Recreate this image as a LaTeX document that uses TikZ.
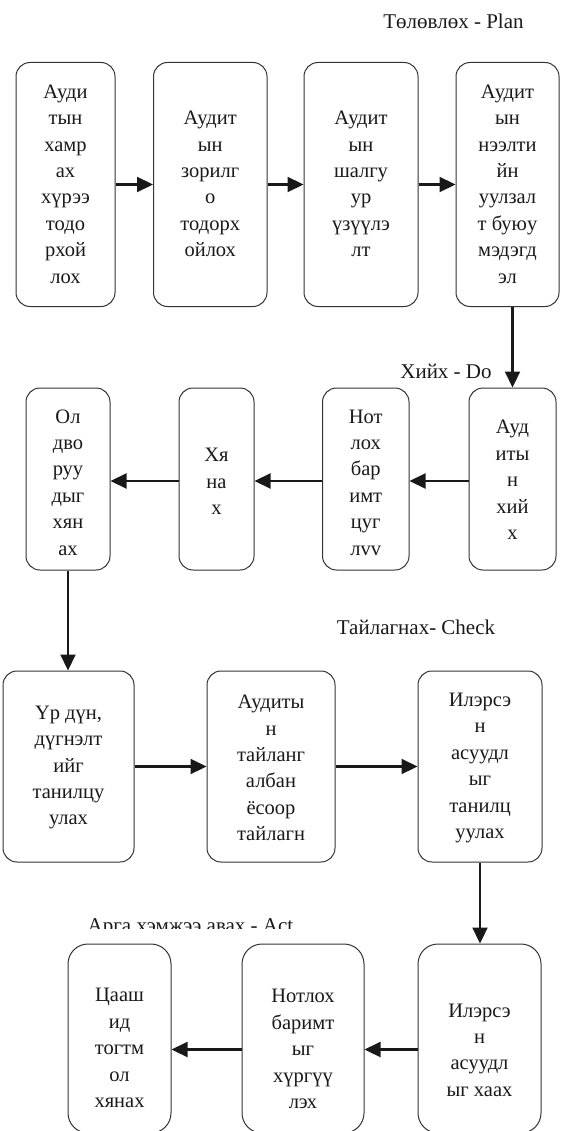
\documentclass[tikz,border=0pt]{standalone}
\usepackage{fontspec}
\setmainfont{Liberation Serif}
\usetikzlibrary{arrows.meta}
\begin{document}
\begin{tikzpicture}[x=1pt,y=-1pt,
  box/.style={draw=black!80, line width=1pt, rounded corners=14pt, inner sep=0pt},
  bigbox/.style={box, rounded corners=20pt},
  txt/.style={align=center, font=\fontsize{20.5pt}{26.4pt}\selectfont, text=black!90, inner sep=0pt},
  lbl/.style={font=\fontsize{21pt}{25pt}\selectfont, text=black!90, inner sep=0pt, anchor=base},
  arr/.style={line width=2.2pt, draw=black!90, -{Triangle[length=16pt,width=15pt]}}
]
\useasboundingbox (0,0) rectangle (560,1131);

% ---- Plan ----
\node[lbl] (plan) at (453.5,29) {Төлөвлөх - Plan};
\node[box, minimum width=99pt,  minimum height=244pt] (p1) at (65.5,184.5) {};
\node[box, minimum width=113.5pt, minimum height=244pt] (p2) at (210.25,184.5) {};
\node[box, minimum width=114pt, minimum height=244pt] (p3) at (361,184.5) {};
\node[box, minimum width=103pt, minimum height=244pt] (p4) at (507.5,184.5) {};
\node[txt] (p1t) at (65.5,184) {Ауди\\тын\\хамр\\ах\\хүрээ\\тодо\\рхой\\лох};
\node[txt] (p2t) at (210.25,184) {Аудит\\ын\\зорилг\\о\\тодорх\\ойлох};
\node[txt] (p3t) at (361,184) {Аудит\\ын\\шалгу\\ур\\үзүүлэ\\лт};
\node[txt] (p4t) at (507.5,184) {Аудит\\ын\\нээлти\\йн\\уулзал\\т буюу\\мэдэгд\\эл};

% ---- Do ----
\node[lbl] (do) at (446,378) {Хийх - Do};
\node[box, minimum width=87pt,   minimum height=182pt] (d1) at (512.5,479) {};
\node[box, minimum width=86.5pt, minimum height=182pt] (d2) at (365.75,479) {};
\node[box, minimum width=75pt,   minimum height=182pt] (d3) at (216.5,479) {};
\node[box, minimum width=84pt,   minimum height=182pt] (d4) at (68,479) {};
\node[txt] (d1t) at (512.5,480) {Ауд\\иты\\н\\хий\\х};
\node[txt] (d2t) at (365.75,482.5) {Нот\\лох\\бар\\имт\\цуг\\лvv};
\node[txt] (d3t) at (216.5,481.5) {Хя\\на\\х};
\node[txt] (d4t) at (68,482.5) {Ол\\дво\\руу\\дыг\\хян\\ах};

% ---- Check ----
\node[lbl] (check) at (416,634) {Тайлагнах- Check};
\node[box, minimum width=131pt, minimum height=191pt] (c1) at (68.5,766.5) {};
\node[box, minimum width=128pt, minimum height=191pt] (c2) at (271,766.5) {};
\node[box, minimum width=124pt, minimum height=191pt] (c3) at (480,766.5) {};
\node[txt] (c1t) at (68.5,767.5) {Үр дүн,\\дүгнэлт\\ийг\\танилцу\\улах};
\node[txt] (c2t) at (271,768) {Аудиты\\н\\тайланг\\албан\\ёсоор\\тайлагн};
\node[txt] (c3t) at (480,768) {Илэрсэ\\н\\асуудл\\ыг\\танилц\\уулах};

% ---- Act ----
\begin{scope}
  \clip (80,900) rectangle (310,928);
  \node[lbl] (act) at (190.5,932) {Арга хэмжээ авах - Act};
\end{scope}
\node[bigbox, minimum width=103pt, minimum height=189pt] (a1) at (119.5,1038.5) {};
\node[bigbox, minimum width=122pt, minimum height=189pt] (a2) at (303,1038.5) {};
\node[bigbox, minimum width=123pt, minimum height=189pt] (a3) at (479.5,1038.5) {};
\node[txt] (a1t) at (119.5,1048) {Цааш\\ид\\тогтм\\ол\\хянах};
\node[txt] (a2t) at (303,1049) {Нотлох\\баримт\\ыг\\хүргүү\\лэх};
\node[txt] (a3t) at (479.5,1050) {Илэрсэ\\н\\асуудл\\ыг хаах};

% ---- connectors ----
\draw[arr] (p1.east) -- (p2.west);
\draw[arr] (p2.east) -- (p3.west);
\draw[arr] (p3.east) -- (p4.west);
\draw[arr] (p4.south -| d1.north) -- (d1.north);

\draw[arr] ([yshift=-2pt]d1.west) -- ([yshift=-2pt]d2.east);
\draw[arr] ([yshift=-2pt]d2.west) -- ([yshift=-2pt]d3.east);
\draw[arr] ([yshift=-2pt]d3.west) -- ([yshift=-2pt]d4.east);
\draw[arr] (d4.south) -- (d4.south |- c1.north);

\draw[arr] (c1.east) -- (c2.west);
\draw[arr] (c2.east) -- (c3.west);
\draw[arr] (c3.south) -- (c3.south |- a3.north);

\draw[arr] ([yshift=-11pt]a3.west) -- ([yshift=-11pt]a2.east);
\draw[arr] ([yshift=-11pt]a2.west) -- ([yshift=-11pt]a1.east);
\end{tikzpicture}
\end{document}
